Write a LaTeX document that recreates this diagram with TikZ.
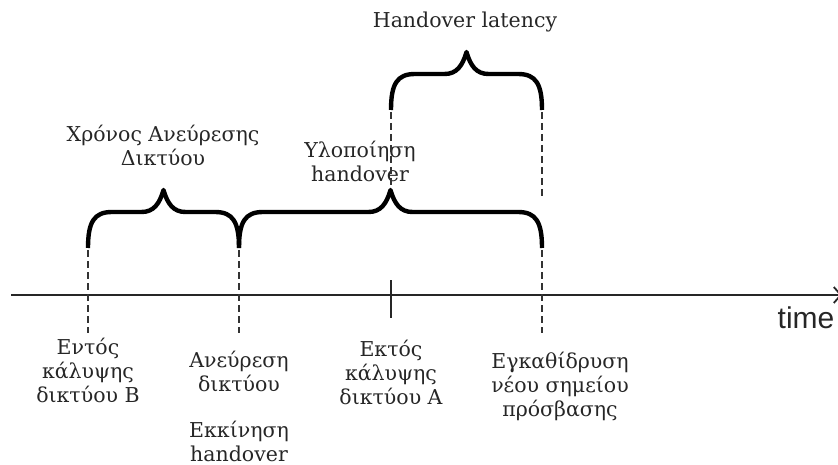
\documentclass[tikz,border=0pt]{standalone}
\usepackage{fontspec}
\setmainfont{DejaVu Serif}
\newfontfamily\axisfont{Liberation Sans}
\usetikzlibrary{positioning, arrows.meta}

\tikzset{
  tlaxis/.style  = {draw=black!85, line width=1.8pt,
                    -{Straight Barb[length=7pt,width=16pt]}},
  tlbrace/.style = {draw=black, line width=4.4pt, line join=round},
  tlguide/.style = {draw=black!80, line width=1.6pt, dash pattern=on 7pt off 4pt},
  tltick/.style  = {draw=black!85, line width=1.8pt},
  tllbl/.style   = {align=center, text=black!85, inner sep=0pt,
                    font=\fontsize{20.5}{24}\selectfont}
}

% curly brace with vertical ends, drawn from x=#1 to x=#2, ends at y=#3
\newcommand{\drawbrace}[3]{%
  \pgfmathsetmacro{\bm}{(#1+#2)/2}
  \draw[tlbrace] (#1,#3) .. controls (#1,#3-26) and (#1+6,#3-36) .. (#1+24,#3-36)
    -- (\bm-22,#3-36) .. controls (\bm-10,#3-36) and (\bm-4,#3-44) .. (\bm,#3-58)
    .. controls (\bm+4,#3-44) and (\bm+10,#3-36) .. (\bm+22,#3-36)
    -- (#2-24,#3-36) .. controls (#2-6,#3-36) and (#2,#3-26) .. (#2,#3);
}

\begin{document}
\begin{tikzpicture}[x=1pt, y=-1pt]
  \useasboundingbox (0,0) rectangle (838,465);

  % time axis and the four instants on it
  \coordinate (start) at (11,295);
  \coordinate (inB)   at (88,295);
  \coordinate (found) at (239,295);
  \coordinate (outA)  at (391,295);
  \coordinate (newAP) at (542,295);
  \coordinate (tend)  at (842,295);
  \draw[tlaxis] (start) -- (tend);
  \node[font=\axisfont\fontsize{30}{30}\selectfont, text=black!85, inner sep=0pt]
        (time) at (806,318) {time};

  % labels of the instants
  \node[tllbl] (inBlbl)   at (88,371)  {Εντός\\κάλυψης\\δικτύου Β};
  \node[tllbl] (foundlbl) at (239,372) {Ανεύρεση\\δικτύου};
  \node[tllbl] (hostart)  at (239,441) {Εκκίνηση\\handover};
  \node[tllbl] (outAlbl)  at (391,373) {Εκτός\\κάλυψης\\δικτύου Α};
  \node[tllbl] (newAPlbl) at (560,386) {Εγκαθίδρυση\\νέου σημείου\\πρόσβασης};

  % labels of the intervals
  \node[tllbl] (searchlbl)  at (163,146) {Χρόνος Ανεύρεσης\\Δικτύου};
  \node[tllbl] (execlbl)    at (360,161) {Υλοποίηση\\handover};
  \node[tllbl] (latencylbl) at (465,22)  {Handover latency};

  % guides from the braces down to the axis
  \draw[tlguide] ([yshift=45pt]inB)   -- ([yshift=-38pt]inB);
  \draw[tlguide] ([yshift=45pt]found) -- ([yshift=-38pt]found);
  \draw[tlguide] ([yshift=45pt]newAP) -- ([yshift=-38pt]newAP);
  \draw[tlguide] ([yshift=183pt]outA) -- ([yshift=107pt]outA);
  \draw[tlguide] ([yshift=183pt]newAP) -- ([yshift=97pt]newAP);
  \draw[tltick]  ([yshift=15pt]outA)  -- ([yshift=-23pt]outA);

  % the three intervals
  \drawbrace{88}{239}{248}
  \drawbrace{239}{542}{248}
  \drawbrace{391}{542}{110}
\end{tikzpicture}
\end{document}
